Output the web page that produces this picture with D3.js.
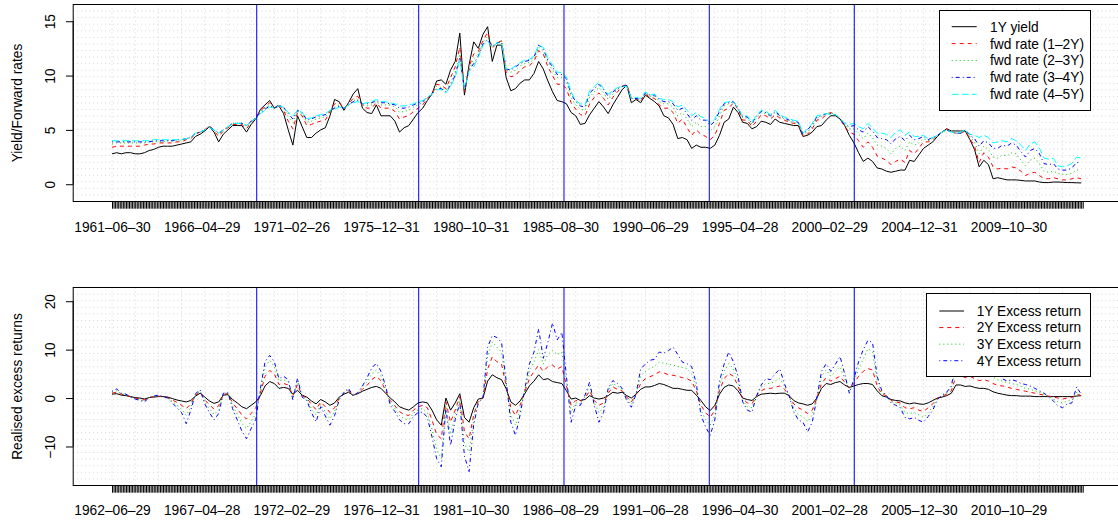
<!DOCTYPE html>
<html>
<head>
<meta charset="utf-8">
<script src="https://cdn.jsdelivr.net/npm/d3@7"></script>
<style>
  html, body { margin: 0; padding: 0; background: #ffffff; }
  svg { display: block; font-family: "Liberation Sans", Arial, Helvetica, sans-serif; }
</style>
</head>
<body>
<svg id="chart" width="1118" height="520"></svg>
<script>
// ---------------------------------------------------------------
// Data: quarterly readings placed on a monthly index (1 = first month)
// Each row holds four quarters (Jun, Sep, Dec, Mar of the next year).
// ---------------------------------------------------------------
const nMonths = 629;          // monthly observations on the x axis
const obsStep = 3;            // one value every three months
const labelEvery = 58;        // spacing of the printed date labels

const topTickLabels = ["1961-06-30", "1966-04-29", "1971-02-26", "1975-12-31", "1980-10-31",
  "1985-08-30", "1990-06-29", "1995-04-28", "2000-02-29", "2004-12-31", "2009-10-30"];
const bottomTickLabels = ["1962-06-29", "1967-04-28", "1972-02-29", "1976-12-31", "1981-10-30",
  "1986-08-29", "1991-06-28", "1996-04-30", "2001-02-28", "2005-12-30", "2010-10-29"];

// sample break points (monthly index)
const breakIdx = [94.6, 199.4, 293.4, 387.4, 481.2];

const yield1Y = [
  2.8, 2.9, 2.8, 2.9,   2.9, 2.8, 2.8, 2.9,   3.1, 3.2, 3.4, 3.5,   3.5, 3.5, 3.6, 3.7,
  3.8, 3.9, 4.4, 4.6,   4.9, 5.3, 4.8, 3.9,   4.6, 5.0, 5.4, 5.4,   5.4, 4.8, 5.5, 6.0,
  6.9, 7.3, 7.7, 7.0,   7.2, 6.5, 5.0, 3.6,   6.3, 5.3, 4.3, 4.3,   4.7, 5.0, 5.2, 6.3,
  7.8, 7.6, 6.8, 7.5,   8.3, 8.8, 7.0, 6.6,   6.5, 7.3, 6.3, 6.3,   6.3, 5.8, 4.8, 5.2,
  5.4, 6.0, 6.6, 7.0,   7.7, 8.3, 9.5, 9.6,   9.2, 10.5, 11.3, 13.9, 8.2, 11.0, 13.1, 12.5,
  13.8, 14.5, 11.3, 12.8, 12.8, 9.8, 8.6, 8.8, 9.3, 9.6, 9.6, 10.2,  11.3, 10.6, 9.5, 8.5,
  7.7, 7.6, 7.4, 6.6,   6.3, 5.5, 5.6, 6.4,   7.0, 7.6, 7.1, 6.5,   7.3, 8.0, 8.7, 9.1,
  7.5, 7.8, 7.5, 8.2,   7.9, 7.6, 7.2, 6.3,   6.1, 5.5, 4.2, 4.3,   4.1, 3.3, 3.6, 3.4,
  3.4, 3.3, 3.6, 4.5,   5.7, 6.0, 7.1, 6.6,   5.7, 5.6, 5.1, 5.3,   5.8, 5.7, 5.5, 6.0,
  5.7, 5.6, 5.5, 5.4,   5.4, 4.4, 4.5, 4.8,   5.3, 5.4, 5.9, 6.3,   6.3, 6.0, 5.4, 4.5,
  3.8, 2.9, 2.1, 2.4,   2.1, 1.5, 1.4, 1.2,   1.1, 1.2, 1.3, 1.3,   2.2, 2.1, 2.7, 3.3,
  3.6, 3.9, 4.4, 4.8,   5.1, 4.9, 4.9, 4.9,   4.9, 4.1, 3.2, 1.6,   2.2, 1.8, 0.5, 0.6,
  0.5, 0.4, 0.4, 0.4,   0.35, 0.3, 0.3, 0.3,  0.2, 0.15, 0.15, 0.2, 0.2, 0.18, 0.15, 0.15,
  0.13, 0.12
];

const fwd12 = [
  3.4, 3.5, 3.5, 3.5,   3.5, 3.5, 3.5, 3.6,   3.7, 3.7, 3.8, 3.8,   3.8, 3.8, 3.9, 3.9,
  4.1, 4.2, 4.6, 4.8,   5.0, 5.4, 4.9, 4.4,   4.9, 5.2, 5.5, 5.5,   5.5, 5.1, 5.7, 6.1,
  6.8, 7.1, 7.5, 7.0,   7.3, 6.8, 5.8, 5.1,   6.6, 6.3, 5.4, 5.5,   5.7, 5.8, 5.9, 6.7,
  7.4, 7.5, 7.0, 7.4,   7.9, 8.1, 7.2, 7.0,   7.0, 7.5, 7.0, 7.0,   7.0, 6.7, 6.0, 6.2,
  6.3, 6.7, 7.0, 7.3,   7.9, 8.3, 9.2, 9.1,   8.8, 9.8, 10.8, 12.6, 8.5, 10.8, 12.0, 12.2,
  13.2, 14.0, 12.5, 13.0, 13.2, 10.3, 9.9, 10.0, 10.5, 10.8, 10.9, 11.3, 12.3, 12.0, 10.8, 10.0,
  9.2, 9.2, 8.8, 7.5,   6.9, 6.4, 6.3, 7.4,   8.0, 8.4, 7.9, 7.3,   8.0, 8.5, 9.0, 9.2,
  7.9, 7.9, 7.6, 8.3,   8.0, 7.9, 7.3, 7.0,   7.0, 6.6, 5.6, 6.0,   5.2, 4.5, 5.0, 4.6,
  4.4, 4.1, 4.5, 5.6,   6.8, 7.0, 7.5, 6.9,   5.9, 5.9, 5.3, 5.8,   6.4, 6.3, 6.0, 6.4,
  6.1, 5.9, 5.7, 5.6,   5.5, 4.4, 4.6, 5.1,   5.9, 6.0, 6.4, 6.6,   6.4, 6.0, 5.3, 4.8,
  4.6, 4.0, 3.4, 3.9,   3.4, 2.6, 2.4, 2.2,   1.8, 2.1, 2.3, 2.0,   3.1, 2.8, 3.3, 3.9,
  3.9, 4.1, 4.5, 4.8,   5.1, 4.8, 4.7, 4.7,   4.9, 4.2, 3.5, 2.0,   2.9, 2.5, 1.6, 1.4,
  1.5, 1.4, 1.6, 1.5,   1.2, 0.8, 1.0, 1.1,   0.8, 0.5, 0.5, 0.6,   0.5, 0.4, 0.4, 0.5,
  0.6, 0.5
];

const fwd23 = [
  3.7, 3.8, 3.8, 3.8,   3.8, 3.8, 3.8, 3.8,   3.9, 3.9, 3.9, 3.9,   4.0, 4.0, 4.0, 4.0,
  4.2, 4.3, 4.7, 4.8,   5.0, 5.3, 5.0, 4.6,   5.0, 5.3, 5.6, 5.6,   5.6, 5.3, 5.8, 6.1,
  6.7, 7.0, 7.3, 7.0,   7.3, 7.0, 6.2, 5.7,   6.7, 6.5, 5.7, 5.8,   6.0, 6.1, 6.2, 6.8,
  7.1, 7.3, 7.0, 7.3,   7.7, 7.8, 7.3, 7.2,   7.3, 7.6, 7.3, 7.3,   7.3, 7.1, 6.6, 6.7,
  6.8, 7.1, 7.3, 7.5,   8.0, 8.3, 9.0, 8.9,   8.6, 9.3, 10.3, 12.0, 8.7, 10.6, 11.5, 12.0,
  13.0, 13.6, 12.6, 13.0, 13.2, 10.5, 10.3, 10.5, 10.9, 11.1, 11.2, 11.5, 12.6, 12.3, 11.2, 10.5,
  9.8, 9.8, 9.4, 8.0,   7.3, 6.9, 6.8, 8.0,   8.5, 8.9, 8.4, 7.8,   8.3, 8.7, 9.0, 9.1,
  7.9, 7.9, 7.7, 8.4,   8.1, 8.1, 7.6, 7.4,   7.4, 7.1, 6.3, 6.6,   6.0, 5.3, 5.7, 5.3,
  5.3, 4.9, 5.3, 6.3,   7.2, 7.4, 7.6, 7.0,   6.1, 6.1, 5.5, 6.1,   6.6, 6.5, 6.2, 6.6,
  6.2, 6.0, 5.8, 5.7,   5.6, 4.5, 4.8, 5.3,   6.1, 6.2, 6.5, 6.6,   6.4, 6.0, 5.4, 5.1,
  5.1, 4.6, 4.2, 4.7,   4.3, 3.6, 3.5, 3.3,   2.8, 3.3, 3.5, 3.1,   3.9, 3.6, 3.8, 4.2,
  4.0, 4.2, 4.5, 4.8,   5.0, 4.8, 4.7, 4.7,   4.9, 4.4, 3.9, 2.8,   3.5, 3.2, 2.5, 2.4,
  2.7, 2.6, 2.9, 2.8,   2.2, 1.7, 2.2, 2.4,   1.9, 1.2, 1.1, 1.2,   1.0, 0.9, 0.9, 1.0,
  1.3, 1.3
];

const fwd34 = [
  3.9, 3.9, 3.9, 3.9,   3.9, 3.9, 3.9, 3.9,   3.9, 4.0, 4.0, 4.0,   4.0, 4.0, 4.1, 4.1,
  4.2, 4.3, 4.7, 4.8,   5.0, 5.3, 5.0, 4.7,   5.0, 5.3, 5.6, 5.6,   5.6, 5.4, 5.8, 6.1,
  6.6, 6.9, 7.2, 7.0,   7.3, 7.1, 6.5, 6.0,   6.8, 6.6, 5.9, 6.0,   6.2, 6.3, 6.4, 6.8,
  7.0, 7.2, 7.0, 7.3,   7.6, 7.7, 7.4, 7.4,   7.5, 7.7, 7.5, 7.5,   7.4, 7.3, 7.0, 7.0,
  7.1, 7.3, 7.5, 7.6,   8.0, 8.3, 8.8, 8.8,   8.5, 9.1, 10.0, 11.6, 8.8, 10.5, 11.1, 11.8,
  12.9, 13.3, 12.7, 13.0, 13.1, 10.6, 10.5, 10.8, 11.1, 11.3, 11.4, 11.7, 12.8, 12.5, 11.4, 10.8,
  10.1, 10.1, 9.7, 8.3,  7.6, 7.2, 7.1, 8.4,   8.8, 9.2, 8.7, 8.1,   8.5, 8.8, 9.0, 9.1,
  7.9, 7.9, 7.8, 8.4,   8.2, 8.2, 7.8, 7.6,   7.6, 7.4, 6.8, 7.0,   6.5, 5.9, 6.3, 5.9,
  5.9, 5.4, 5.8, 6.7,   7.4, 7.5, 7.6, 7.0,   6.2, 6.2, 5.6, 6.3,   6.7, 6.6, 6.3, 6.7,
  6.3, 6.1, 5.9, 5.8,   5.7, 4.6, 5.0, 5.5,   6.2, 6.3, 6.5, 6.5,   6.4, 6.0, 5.5, 5.3,
  5.4, 5.0, 4.8, 5.3,   4.9, 4.3, 4.2, 4.1,   3.7, 4.2, 4.4, 4.0,   4.5, 4.1, 4.2, 4.4,
  4.1, 4.3, 4.5, 4.8,   5.0, 4.8, 4.7, 4.7,   5.0, 4.5, 4.2, 3.5,   4.0, 3.8, 3.3, 3.3,
  3.6, 3.5, 3.8, 3.6,   3.0, 2.5, 3.1, 3.3,   2.8, 1.9, 1.8, 1.9,   1.4, 1.3, 1.3, 1.5,
  2.0, 2.0
];

const fwd45 = [
  4.0, 4.0, 4.0, 4.0,   4.0, 4.0, 4.0, 4.0,   4.0, 4.1, 4.1, 4.1,   4.1, 4.1, 4.1, 4.1,
  4.2, 4.3, 4.7, 4.8,   5.0, 5.2, 5.0, 4.7,   5.0, 5.3, 5.6, 5.6,   5.6, 5.4, 5.8, 6.0,
  6.5, 6.8, 7.1, 7.0,   7.2, 7.1, 6.6, 6.3,   6.8, 6.6, 6.05, 6.1,  6.3, 6.4, 6.5, 6.8,
  6.9, 7.1, 7.0, 7.3,   7.5, 7.6, 7.4, 7.5,   7.6, 7.8, 7.6, 7.6,   7.5, 7.4, 7.2, 7.2,
  7.3, 7.4, 7.6, 7.7,   8.0, 8.3, 8.7, 8.7,   8.4, 9.0, 9.8, 11.4,  8.8, 10.4, 10.8, 11.7,
  12.8, 13.2, 12.6, 13.0, 13.0, 10.6, 10.6, 10.9, 11.2, 11.4, 11.5, 11.8, 12.8, 12.6, 11.6, 11.0,
  10.3, 10.3, 9.9, 8.5,  7.7, 7.4, 7.3, 8.6,   9.0, 9.4, 8.8, 8.3,   8.6, 8.9, 9.0, 9.0,
  7.9, 8.0, 7.9, 8.5,   8.2, 8.3, 7.9, 7.8,   7.8, 7.6, 7.1, 7.3,   6.8, 6.3, 6.6, 6.2,
  6.1, 5.6, 6.0, 6.9,   7.5, 7.6, 7.6, 7.0,   6.3, 6.3, 5.7, 6.4,   6.8, 6.7, 6.4, 6.8,
  6.4, 6.2, 6.0, 5.9,   5.8, 4.7, 5.1, 5.6,   6.3, 6.4, 6.5, 6.4,   6.4, 6.1, 5.6, 5.5,
  5.6, 5.3, 5.1, 5.6,   5.2, 4.7, 4.7, 4.6,   4.3, 4.8, 5.0, 4.5,   4.8, 4.4, 4.4, 4.5,
  4.2, 4.3, 4.5, 4.8,   5.0, 4.8, 4.7, 4.8,   5.0, 4.6, 4.5, 4.3,   4.5, 4.3, 3.8, 3.9,
  4.0, 3.9, 4.2, 4.0,   3.6, 3.1, 3.7, 3.9,   3.3, 2.4, 2.3, 2.4,   1.7, 1.6, 1.7, 1.9,
  2.5, 2.4
];

const excess1Y = [
  0.8, 0.9, 0.6, 0.5,   0.3, 0.1, 0.0, -0.2,  0.1, 0.2, 0.3, 0.3,   0.2, -0.1, -0.4, -0.6,
  -0.8, -0.5, 0.4, 1.0, 0.2, -0.6, -1.1, -0.8, 0.6, 0.7, -0.3, -1.0, -1.8, -2.2, -1.5, -0.8,
  0.5, 2.5, 3.4, 3.0,   2.0, 2.2, 2.0, 0.8,   1.6, 0.6, 0.2, -0.6,  -1.2, -0.3, -0.8, -1.5,
  -1.0, 0.2, 0.8, 1.2,  0.6, 0.9, 1.4, 1.8,   2.2, 2.4, 2.0, 1.0,   0.0, -0.8, -1.8, -2.2,
  -2.5, -1.8, -1.0, -0.8, -1.0, -2.5, -4.5, -5.6, 0.0, -2.5, -1.0, 0.9, -4.0, -5.0, -2.0, -0.2,
  0.0, 3.5, 4.8, 4.2,   3.8, 1.9, -0.8, -1.5, -0.6, 0.9, 2.5, 3.5,   4.8, 3.8, 4.0, 3.4,
  3.2, 3.0, 1.5, -0.2,  0.0, -0.5, -0.3, 0.5, 0.0, -0.2, 0.0, 0.5,  1.2, 1.0, 1.2, 0.5,
  0.0, 0.8, 1.8, 2.3,   2.3, 2.6, 3.0, 2.8,   2.4, 2.0, 2.0, 1.8,   1.6, 1.6, 0.6, -0.5,
  -1.8, -2.6, -1.5, 0.8, 2.2, 2.7, 2.5, 1.5,  0.0, -0.3, -0.5, 0.3, 0.8, 0.9, 1.0, 0.9,
  1.0, 1.0, 0.5, -0.5,  -1.0, -1.2, -1.5, -1.2, 0.0, 2.0, 3.0, 2.8,  3.2, 3.4, 2.7, 2.2,
  2.5, 2.8, 3.0, 3.0,   2.8, 1.5, 0.5, 0.2,   -0.3, -0.5, -0.6, -1.0, -1.2, -1.0, -1.2, -1.3,
  -1.0, -0.5, 0.0, 0.2, 0.5, 1.0, 2.7, 2.7,   2.4, 2.5, 2.2, 2.0,   2.0, 1.8, 1.3, 1.0,
  0.8, 0.6, 0.5, 0.5,   0.4, 0.4, 0.4, 0.3,   0.3, 0.3, 0.3, 0.3,   0.3, 0.3, 0.3, 0.3,
  0.4, 0.5
];

const excess2Y = [
  1.0, 1.2, 0.8, 0.6,   0.3, 0.0, -0.2, -0.4, 0.1, 0.3, 0.4, 0.3,   0.1, -0.4, -0.9, -1.5,
  -2.2, -1.2, 0.6, 1.3, -0.4, -1.4, -2.3, -1.6, 0.8, 0.9, -1.0, -2.2, -3.5, -4.3, -3.2, -2.0,
  1.0, 4.5, 5.7, 5.0,   2.8, 3.0, 2.7, 0.5,   2.8, 0.5, 0.0, -1.3,  -2.4, -0.8, -1.8, -3.0,
  -2.0, 0.0, 1.0, 1.5,  0.6, 1.0, 1.8, 2.6,   3.8, 4.5, 3.6, 1.5,   -0.5, -1.6, -2.8, -3.4,
  -3.6, -2.5, -1.8, -1.5, -2.0, -4.5, -7.5, -8.4, -0.8, -5.0, -2.5, 0.3, -7.0, -8.4, -3.5, -0.5,
  0.0, 6.0, 8.5, 7.5,   7.0, 2.5, -2.0, -3.6, -1.5, 1.2, 4.0, 5.5,   6.8, 5.5, 6.5, 6.8,
  6.0, 6.5, 2.5, -1.5,  -0.5, -0.8, 0.0, 1.5, -0.5, -1.5, -1.0, 1.0, 2.3, 1.8, 1.5, 0.2,
  -0.8, 0.8, 3.0, 4.0,  4.4, 4.8, 5.4, 5.2,   4.8, 4.7, 4.5, 4.2,   4.0, 3.5, 1.5, -1.5,
  -3.0, -4.0, -2.5, 1.5, 4.0, 5.1, 4.5, 2.5,  -0.2, -1.0, -1.2, 0.5, 1.5, 2.0, 2.0, 2.2,
  2.5, 1.8, 0.5, -1.2,  -2.0, -2.5, -3.2, -2.5, 0.0, 3.0, 4.2, 3.5,  4.0, 4.5, 3.3, 2.0,
  3.0, 4.5, 5.5, 6.1,   5.8, 2.5, 0.8, 0.5,   -0.5, -0.8, -1.0, -2.0, -2.2, -2.0, -2.5, -2.8,
  -2.0, -1.2, 0.0, 0.4, 0.8, 1.5, 4.5, 4.7,   4.2, 4.5, 4.0, 3.6,   3.8, 3.5, 3.0, 2.6,
  2.5, 2.3, 2.0, 1.8,   1.6, 1.4, 1.2, 1.0,   0.8, 0.6, 0.4, 0.2,   0.0, -0.2, 0.0, 0.1,
  0.8, 0.5
];

const excess3Y = [
  1.2, 1.5, 0.9, 0.7,   0.2, -0.1, -0.3, -0.6, 0.1, 0.3, 0.5, 0.3,  0.0, -0.7, -1.5, -2.3,
  -3.6, -1.8, 0.8, 1.5, -0.8, -2.2, -3.4, -2.4, 0.9, 1.0, -1.6, -3.3, -5.2, -6.3, -4.8, -3.2,
  1.5, 6.3, 7.8, 6.5,   3.5, 3.8, 3.3, 0.2,   3.6, 0.3, -0.3, -2.2, -3.5, -1.3, -2.8, -4.3,
  -2.8, -0.2, 1.1, 1.8, 0.5, 1.0, 2.2, 3.4,   5.0, 5.8, 4.5, 1.9,   -1.0, -2.2, -3.6, -4.3,
  -4.5, -3.2, -2.4, -2.2, -3.0, -6.5, -10.5, -12.5, -1.5, -7.5, -3.5, -0.5, -9.5, -11.1, -4.5, -0.8,
  0.0, 8.5, 11.6, 10.5, 9.5, 3.0, -3.5, -5.6, -2.5, 1.5, 5.5, 7.5,  10.0, 7.0, 9.0, 9.8,
  9.0, 9.5, 3.5, -3.0,  -1.0, -1.2, 0.3, 2.5, -1.0, -3.0, -2.0, 1.5, 3.0, 2.5, 1.8, 0.0,
  -1.4, 0.8, 4.5, 5.5,  6.1, 6.6, 7.4, 7.2,   7.0, 6.8, 6.5, 6.3,   6.1, 5.0, 2.2, -2.5,
  -4.5, -5.6, -3.5, 2.5, 5.5, 7.1, 6.0, 3.5,  -0.5, -1.8, -2.0, 0.5, 2.2, 3.0, 3.0, 3.5,
  4.0, 2.5, 0.5, -2.0,  -3.5, -3.8, -4.9, -3.5, 0.0, 4.5, 5.8, 4.5,  5.5, 6.5, 4.0, 1.5,
  3.5, 6.0, 8.0, 10.2,  9.5, 3.5, 1.2, 0.5,   -0.8, -1.0, -1.5, -3.0, -3.2, -3.0, -3.5, -4.0,
  -3.0, -1.8, -0.2, 0.5, 1.0, 2.0, 6.0, 6.3,  5.8, 6.0, 5.5, 5.0,   5.2, 4.8, 4.3, 3.8,
  3.5, 3.2, 3.0, 2.8,   2.4, 2.0, 1.8, 1.5,   1.2, 0.8, 0.3, -0.2,  -0.8, -1.0, -0.6, -0.5,
  1.2, 0.5
];

const excess4Y = [
  1.4, 1.9, 1.0, 0.8,   0.2, -0.2, -0.5, -0.8, 0.1, 0.4, 0.6, 0.3,  0.0, -1.0, -2.0, -3.0,
  -5.3, -2.5, 0.9, 1.7, -1.2, -3.0, -4.5, -3.2, 1.0, 1.1, -2.2, -4.5, -6.8, -8.4, -6.3, -4.4,
  2.0, 7.5, 8.8, 7.5,   4.0, 4.5, 3.8, -0.4,  4.1, 0.2, -0.5, -3.0,  -4.9, -1.8, -3.7, -5.6,
  -3.6, -0.4, 1.2, 2.0, 0.4, 1.1, 2.5, 4.2,   6.2, 7.2, 5.5, 2.5,   -1.5, -2.8, -4.5, -5.3,
  -5.3, -3.8, -3.0, -2.9, -4.0, -8.0, -12.5, -14.2, -2.2, -9.8, -4.5, -1.0, -12.0, -15.2, -5.5, -1.0,
  0.0, 10.5, 12.9, 12.5, 11.5, 3.5, -5.0, -7.7, -3.5, 1.8, 7.0, 9.5, 14.3, 8.2, 11.5, 15.5,
  12.0, 13.6, 4.5, -5.0, -1.5, -1.5, 0.6, 3.3, -1.5, -5.0, -3.0, 2.0, 3.6, 3.0, 2.0, -0.5,
  -1.9, 0.8, 6.0, 7.0,  7.8, 8.0, 9.5, 9.3,   9.8, 10.5, 9.0, 7.4,  7.1, 6.5, 3.0, -3.5,
  -6.0, -7.7, -4.5, 3.5, 7.0, 9.5, 7.5, 4.5,  -0.8, -2.5, -2.9, 0.5, 2.7, 4.0, 3.8, 5.0,
  6.0, 3.0, 0.5, -2.8,  -4.5, -5.0, -7.0, -5.0, 0.0, 5.5, 7.1, 5.5,  7.0, 8.6, 5.0, 1.0,
  4.0, 7.5, 10.0, 11.9, 11.5, 4.5, 1.5, 0.5,  -1.0, -1.5, -2.0, -4.0, -4.3, -4.0, -4.6, -5.0,
  -3.8, -2.5, -0.3, 0.6, 1.2, 2.5, 7.5, 7.8,  7.0, 7.5, 6.8, 6.2,   6.5, 6.0, 5.5, 5.0,
  4.0, 3.5, 3.8, 3.5,   3.0, 2.8, 2.5, 2.0,   1.5, 1.0, 0.2, -0.6,  -1.6, -2.0, -1.2, -1.0,
  2.3, 0.8
];

// ---------------------------------------------------------------
// Layout
// ---------------------------------------------------------------
const svg = d3.select("#chart");
const FONT = 13.75;
const plotLeft = 73.2;
const span = nMonths - 1;
const xScale = d3.scaleLinear()
  .domain([1 - 0.04 * span, nMonths + 0.04 * span])
  .range([plotLeft, plotLeft + 1.08 * span * 1.5457]);

const lineStyles = {
  solid:   { color: "#000000", dash: null },
  dashed:  { color: "#FF0000", dash: "4,4" },
  dotted:  { color: "#00CD00", dash: "1,3" },
  dotdash: { color: "#0000FF", dash: "1,3,4,3" },
  longdash:{ color: "#00FFFF", dash: "7,3" }
};

function drawPanel(p, id) {
  const y = d3.scaleLinear().domain(p.yDomain).range([p.bottom, p.top]);
  const right = xScale.range()[1];

  svg.append("defs").append("clipPath").attr("id", "clip-" + id)
    .append("rect")
    .attr("x", plotLeft).attr("y", p.top)
    .attr("width", right - plotLeft).attr("height", p.bottom - p.top);

  const inner = svg.append("g").attr("clip-path", `url(#clip-${id})`);

  // dotted reference grid
  const gridG = inner.append("g")
    .attr("stroke", "#D3D3D3").attr("stroke-width", 1).attr("stroke-dasharray", "1,3");
  gridG.selectAll("line.v").data(d3.range(1, nMonths + 1, 15)).join("line")
    .attr("x1", d => xScale(d)).attr("x2", d => xScale(d))
    .attr("y1", p.top).attr("y2", p.bottom);
  const ny = 30, yd = y.domain();
  gridG.selectAll("line.h").data(d3.range(1, ny).map(k => yd[0] + k * (yd[1] - yd[0]) / ny)).join("line")
    .attr("x1", plotLeft).attr("x2", right)
    .attr("y1", d => y(d)).attr("y2", d => y(d));

  // series
  p.series.forEach(s => {
    const st = lineStyles[s.style];
    const line = d3.line().x((d, i) => xScale(1 + obsStep * i)).y(d => y(d));
    inner.append("path").datum(s.values)
      .attr("d", line)
      .attr("fill", "none")
      .attr("stroke", st.color)
      .attr("stroke-width", 1)
      .attr("stroke-dasharray", st.dash);
  });

  // sample breaks
  inner.selectAll("line.brk").data(breakIdx).join("line")
    .attr("x1", d => xScale(d)).attr("x2", d => xScale(d))
    .attr("y1", p.top).attr("y2", p.bottom)
    .attr("stroke", "#0000FF").attr("stroke-width", 1);

  // frame
  svg.append("rect")
    .attr("x", plotLeft).attr("y", p.top)
    .attr("width", right - plotLeft).attr("height", p.bottom - p.top)
    .attr("fill", "none").attr("stroke", "#000").attr("stroke-width", 1);

  // x axis: one tick per month
  const xAxis = svg.append("g").attr("transform", `translate(0,${p.bottom})`)
    .call(d3.axisBottom(xScale).tickValues(d3.range(1, nMonths + 1)).tickSize(7.2)
      .tickSizeOuter(0).tickFormat(""));
  xAxis.select(".domain").remove();
  xAxis.selectAll(".tick line").attr("stroke", "#000").attr("stroke-width", 1);

  // x axis date labels
  const labelIdx = p.tickLabels.map((t, i) => 1 + i * labelEvery);
  const xLab = svg.append("g").attr("transform", `translate(0,${p.bottom})`)
    .call(d3.axisBottom(xScale).tickValues(labelIdx).tickSize(0).tickPadding(0)
      .tickFormat((d, i) => p.tickLabels[i].replace(/-/g, "\u2013")));
  xLab.select(".domain").remove();
  xLab.selectAll("text")
    .attr("y", p.labelBaseline - p.bottom).attr("dy", null)
    .attr("font-size", FONT).attr("font-family", "Liberation Sans, Arial, Helvetica, sans-serif")
    .attr("fill", "#000");

  // y axis
  const yAxis = svg.append("g").attr("transform", `translate(${plotLeft},0)`)
    .call(d3.axisLeft(y).tickValues(p.yTicks).tickSize(7.2).tickSizeOuter(0)
      .tickFormat(d => d < 0 ? "\u2212" + Math.abs(d) : String(d)));
  yAxis.select(".domain").attr("d", `M0,${y(p.yTicks[0])}V${y(p.yTicks[p.yTicks.length - 1])}`)
    .attr("stroke", "#000");
  yAxis.selectAll(".tick line").attr("stroke", "#000");
  yAxis.selectAll("text")
    .attr("x", null).attr("dy", null)
    .attr("text-anchor", "middle")
    .attr("transform", `translate(${55.2 - plotLeft},0) rotate(-90)`)
    .attr("font-size", FONT).attr("font-family", "Liberation Sans, Arial, Helvetica, sans-serif")
    .attr("fill", "#000");

  // axis title
  svg.append("text")
    .attr("transform", `translate(21.5,${(p.top + p.bottom) / 2}) rotate(-90)`)
    .attr("text-anchor", "middle")
    .attr("font-size", FONT)
    .text(p.yTitle);

  // legend
  const L = p.legend;
  const lg = svg.append("g");
  lg.append("rect")
    .attr("x", L.x0).attr("y", L.y0).attr("width", L.x1 - L.x0).attr("height", L.y1 - L.y0)
    .attr("fill", "#fff").attr("stroke", "#000").attr("stroke-width", 1);
  p.series.forEach((s, i) => {
    const st = lineStyles[s.style];
    const cy = L.row0 + i * L.rowStep;
    lg.append("line")
      .attr("x1", L.lineX0).attr("x2", L.lineX1).attr("y1", cy).attr("y2", cy)
      .attr("stroke", st.color).attr("stroke-width", 1).attr("stroke-dasharray", st.dash);
    lg.append("text")
      .attr("x", L.textX).attr("y", cy + 4.9)
      .attr("font-size", FONT)
      .text(s.name);
  });
}

drawPanel({
  top: 4.5, bottom: 201.5,
  yDomain: [-1.59, 16.54],
  yTicks: [0, 5, 10, 15],
  yTitle: "Yield/Forward rates",
  tickLabels: topTickLabels,
  labelBaseline: 231.6,
  series: [
    { name: "1Y yield", values: yield1Y, style: "solid" },
    { name: "fwd rate (1\u20132Y)", values: fwd12, style: "dashed" },
    { name: "fwd rate (2\u20133Y)", values: fwd23, style: "dotted" },
    { name: "fwd rate (3\u20134Y)", values: fwd34, style: "dotdash" },
    { name: "fwd rate (4\u20135Y)", values: fwd45, style: "longdash" }
  ],
  legend: { x0: 939.5, x1: 1090.5, y0: 10.5, y1: 110.5, row0: 26.7, rowStep: 16.9,
            lineX0: 951.7, lineX1: 976.7, textX: 990 }
}, "top");

drawPanel({
  top: 287.5, bottom: 485.5,
  yDomain: [-18.06, 22.83],
  yTicks: [-10, 0, 10, 20],
  yTitle: "Realised excess returns",
  tickLabels: bottomTickLabels,
  labelBaseline: 514.6,
  series: [
    { name: "1Y Excess return", values: excess1Y, style: "solid" },
    { name: "2Y Excess return", values: excess2Y, style: "dashed" },
    { name: "3Y Excess return", values: excess3Y, style: "dotted" },
    { name: "4Y Excess return", values: excess4Y, style: "dotdash" }
  ],
  legend: { x0: 926.5, x1: 1090.5, y0: 293.5, y1: 376.5, row0: 311, rowStep: 16.57,
            lineX0: 939.3, lineX1: 964, textX: 976.7 }
}, "bottom");
</script>
</body>
</html>
